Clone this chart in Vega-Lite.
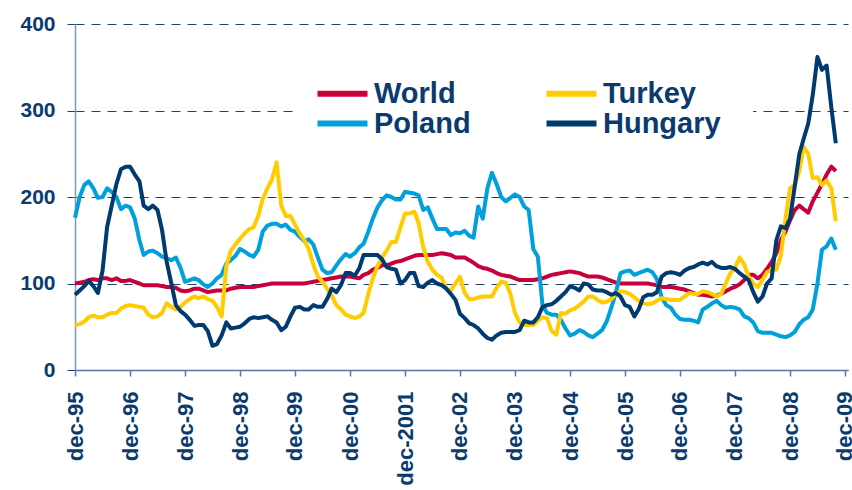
{
  "$schema": "https://vega.github.io/schema/vega-lite/v6.json",
  "width": 773,
  "height": 346,
  "autosize": "none",
  "padding": {"left": 75, "top": 24, "right": 4, "bottom": 120},
  "background": "white",
  "config": {
    "view": {"stroke": null},
    "font": "Liberation Sans"
  },
  "data": {
    "values": [
      {"d":"1995-12-01","World":100,"Poland":176,"Turkey":52,"Hungary":87},
      {"d":"1996-01-01","World":101,"Poland":200,"Turkey":53,"Hungary":92},
      {"d":"1996-02-01","World":102,"Poland":214,"Turkey":56,"Hungary":97},
      {"d":"1996-03-01","World":104,"Poland":218,"Turkey":61,"Hungary":103},
      {"d":"1996-04-01","World":105,"Poland":210,"Turkey":63,"Hungary":97},
      {"d":"1996-05-01","World":104,"Poland":199,"Turkey":61,"Hungary":89},
      {"d":"1996-06-01","World":106,"Poland":200,"Turkey":61,"Hungary":115},
      {"d":"1996-07-01","World":106,"Poland":210,"Turkey":64,"Hungary":165},
      {"d":"1996-08-01","World":104,"Poland":206,"Turkey":66,"Hungary":190},
      {"d":"1996-09-01","World":106,"Poland":200,"Turkey":66,"Hungary":215},
      {"d":"1996-10-01","World":103,"Poland":186,"Turkey":71,"Hungary":232},
      {"d":"1996-11-01","World":103,"Poland":190,"Turkey":74,"Hungary":235},
      {"d":"1996-12-01","World":104,"Poland":188,"Turkey":75,"Hungary":235},
      {"d":"1997-01-01","World":102,"Poland":175,"Turkey":74,"Hungary":226},
      {"d":"1997-02-01","World":100,"Poland":150,"Turkey":73,"Hungary":218},
      {"d":"1997-03-01","World":98,"Poland":133,"Turkey":72,"Hungary":190},
      {"d":"1997-04-01","World":98,"Poland":137,"Turkey":64,"Hungary":186},
      {"d":"1997-05-01","World":98,"Poland":138,"Turkey":61,"Hungary":190},
      {"d":"1997-06-01","World":98,"Poland":135,"Turkey":62,"Hungary":185},
      {"d":"1997-07-01","World":97,"Poland":131,"Turkey":66,"Hungary":162},
      {"d":"1997-08-01","World":96,"Poland":129,"Turkey":77,"Hungary":125},
      {"d":"1997-09-01","World":96,"Poland":127,"Turkey":73,"Hungary":100},
      {"d":"1997-10-01","World":95,"Poland":130,"Turkey":70,"Hungary":75},
      {"d":"1997-11-01","World":92,"Poland":118,"Turkey":73,"Hungary":68},
      {"d":"1997-12-01","World":91,"Poland":102,"Turkey":78,"Hungary":64},
      {"d":"1998-01-01","World":92,"Poland":104,"Turkey":82,"Hungary":58},
      {"d":"1998-02-01","World":94,"Poland":106,"Turkey":85,"Hungary":51},
      {"d":"1998-03-01","World":94,"Poland":104,"Turkey":83,"Hungary":52},
      {"d":"1998-04-01","World":92,"Poland":99,"Turkey":85,"Hungary":52},
      {"d":"1998-05-01","World":90,"Poland":96,"Turkey":82,"Hungary":45},
      {"d":"1998-06-01","World":91,"Poland":100,"Turkey":80,"Hungary":28},
      {"d":"1998-07-01","World":92,"Poland":106,"Turkey":73,"Hungary":30},
      {"d":"1998-08-01","World":92,"Poland":110,"Turkey":62,"Hungary":40},
      {"d":"1998-09-01","World":92,"Poland":123,"Turkey":120,"Hungary":55},
      {"d":"1998-10-01","World":94,"Poland":127,"Turkey":138,"Hungary":48},
      {"d":"1998-11-01","World":95,"Poland":132,"Turkey":145,"Hungary":49},
      {"d":"1998-12-01","World":96,"Poland":140,"Turkey":152,"Hungary":50},
      {"d":"1999-01-01","World":96,"Poland":137,"Turkey":158,"Hungary":54},
      {"d":"1999-02-01","World":96,"Poland":133,"Turkey":163,"Hungary":59},
      {"d":"1999-03-01","World":96,"Poland":131,"Turkey":165,"Hungary":61},
      {"d":"1999-04-01","World":97,"Poland":139,"Turkey":178,"Hungary":60},
      {"d":"1999-05-01","World":98,"Poland":160,"Turkey":198,"Hungary":61},
      {"d":"1999-06-01","World":99,"Poland":167,"Turkey":210,"Hungary":62},
      {"d":"1999-07-01","World":100,"Poland":169,"Turkey":220,"Hungary":58},
      {"d":"1999-08-01","World":100,"Poland":169,"Turkey":240,"Hungary":55},
      {"d":"1999-09-01","World":100,"Poland":166,"Turkey":190,"Hungary":46},
      {"d":"1999-10-01","World":100,"Poland":168,"Turkey":178,"Hungary":50},
      {"d":"1999-11-01","World":100,"Poland":162,"Turkey":178,"Hungary":62},
      {"d":"1999-12-01","World":100,"Poland":160,"Turkey":168,"Hungary":72},
      {"d":"2000-01-01","World":100,"Poland":154,"Turkey":158,"Hungary":73},
      {"d":"2000-02-01","World":100,"Poland":149,"Turkey":150,"Hungary":70},
      {"d":"2000-03-01","World":101,"Poland":151,"Turkey":140,"Hungary":70},
      {"d":"2000-04-01","World":102,"Poland":145,"Turkey":122,"Hungary":75},
      {"d":"2000-05-01","World":103,"Poland":130,"Turkey":108,"Hungary":73},
      {"d":"2000-06-01","World":104,"Poland":116,"Turkey":102,"Hungary":73},
      {"d":"2000-07-01","World":105,"Poland":112,"Turkey":94,"Hungary":82},
      {"d":"2000-08-01","World":106,"Poland":113,"Turkey":86,"Hungary":94},
      {"d":"2000-09-01","World":107,"Poland":121,"Turkey":75,"Hungary":90},
      {"d":"2000-10-01","World":108,"Poland":128,"Turkey":70,"Hungary":98},
      {"d":"2000-11-01","World":108,"Poland":134,"Turkey":64,"Hungary":112},
      {"d":"2000-12-01","World":108,"Poland":131,"Turkey":62,"Hungary":112},
      {"d":"2001-01-01","World":107,"Poland":135,"Turkey":60,"Hungary":109},
      {"d":"2001-02-01","World":106,"Poland":142,"Turkey":62,"Hungary":118},
      {"d":"2001-03-01","World":110,"Poland":146,"Turkey":66,"Hungary":133},
      {"d":"2001-04-01","World":112,"Poland":160,"Turkey":88,"Hungary":133},
      {"d":"2001-05-01","World":116,"Poland":175,"Turkey":106,"Hungary":133},
      {"d":"2001-06-01","World":118,"Poland":188,"Turkey":120,"Hungary":133},
      {"d":"2001-07-01","World":121,"Poland":196,"Turkey":130,"Hungary":128},
      {"d":"2001-08-01","World":121,"Poland":202,"Turkey":138,"Hungary":119},
      {"d":"2001-09-01","World":123,"Poland":200,"Turkey":148,"Hungary":117},
      {"d":"2001-10-01","World":125,"Poland":197,"Turkey":148,"Hungary":116},
      {"d":"2001-11-01","World":126,"Poland":197,"Turkey":165,"Hungary":100},
      {"d":"2001-12-01","World":128,"Poland":206,"Turkey":181,"Hungary":104},
      {"d":"2002-01-01","World":130,"Poland":205,"Turkey":181,"Hungary":112},
      {"d":"2002-02-01","World":132,"Poland":204,"Turkey":183,"Hungary":112},
      {"d":"2002-03-01","World":133,"Poland":202,"Turkey":170,"Hungary":97},
      {"d":"2002-04-01","World":133,"Poland":185,"Turkey":142,"Hungary":96},
      {"d":"2002-05-01","World":133,"Poland":188,"Turkey":125,"Hungary":101},
      {"d":"2002-06-01","World":133,"Poland":175,"Turkey":116,"Hungary":104},
      {"d":"2002-07-01","World":134,"Poland":163,"Turkey":110,"Hungary":100},
      {"d":"2002-08-01","World":135,"Poland":163,"Turkey":107,"Hungary":98},
      {"d":"2002-09-01","World":134,"Poland":163,"Turkey":94,"Hungary":94},
      {"d":"2002-10-01","World":133,"Poland":156,"Turkey":92,"Hungary":88},
      {"d":"2002-11-01","World":130,"Poland":159,"Turkey":100,"Hungary":81},
      {"d":"2002-12-01","World":130,"Poland":158,"Turkey":108,"Hungary":65},
      {"d":"2003-01-01","World":130,"Poland":161,"Turkey":89,"Hungary":60},
      {"d":"2003-02-01","World":127,"Poland":155,"Turkey":82,"Hungary":54},
      {"d":"2003-03-01","World":124,"Poland":153,"Turkey":82,"Hungary":52},
      {"d":"2003-04-01","World":120,"Poland":189,"Turkey":84,"Hungary":48},
      {"d":"2003-05-01","World":118,"Poland":175,"Turkey":85,"Hungary":42},
      {"d":"2003-06-01","World":117,"Poland":210,"Turkey":85,"Hungary":37},
      {"d":"2003-07-01","World":115,"Poland":228,"Turkey":85,"Hungary":35},
      {"d":"2003-08-01","World":112,"Poland":215,"Turkey":95,"Hungary":40},
      {"d":"2003-09-01","World":110,"Poland":200,"Turkey":102,"Hungary":43},
      {"d":"2003-10-01","World":109,"Poland":195,"Turkey":101,"Hungary":44},
      {"d":"2003-11-01","World":108,"Poland":199,"Turkey":88,"Hungary":44},
      {"d":"2003-12-01","World":106,"Poland":203,"Turkey":66,"Hungary":44},
      {"d":"2004-01-01","World":104,"Poland":200,"Turkey":55,"Hungary":46},
      {"d":"2004-02-01","World":104,"Poland":189,"Turkey":52,"Hungary":57},
      {"d":"2004-03-01","World":104,"Poland":185,"Turkey":52,"Hungary":55},
      {"d":"2004-04-01","World":104,"Poland":140,"Turkey":52,"Hungary":55},
      {"d":"2004-05-01","World":105,"Poland":131,"Turkey":57,"Hungary":61},
      {"d":"2004-06-01","World":106,"Poland":75,"Turkey":61,"Hungary":73},
      {"d":"2004-07-01","World":108,"Poland":66,"Turkey":60,"Hungary":75},
      {"d":"2004-08-01","World":110,"Poland":64,"Turkey":45,"Hungary":76},
      {"d":"2004-09-01","World":111,"Poland":64,"Turkey":41,"Hungary":80},
      {"d":"2004-10-01","World":112,"Poland":58,"Turkey":66,"Hungary":85},
      {"d":"2004-11-01","World":113,"Poland":48,"Turkey":65,"Hungary":90},
      {"d":"2004-12-01","World":114,"Poland":40,"Turkey":69,"Hungary":97},
      {"d":"2005-01-01","World":113,"Poland":42,"Turkey":71,"Hungary":95},
      {"d":"2005-02-01","World":112,"Poland":46,"Turkey":75,"Hungary":92},
      {"d":"2005-03-01","World":110,"Poland":44,"Turkey":79,"Hungary":100},
      {"d":"2005-04-01","World":108,"Poland":40,"Turkey":85,"Hungary":99},
      {"d":"2005-05-01","World":108,"Poland":38,"Turkey":85,"Hungary":93},
      {"d":"2005-06-01","World":108,"Poland":42,"Turkey":81,"Hungary":92},
      {"d":"2005-07-01","World":107,"Poland":46,"Turkey":78,"Hungary":92},
      {"d":"2005-08-01","World":105,"Poland":56,"Turkey":79,"Hungary":90},
      {"d":"2005-09-01","World":103,"Poland":72,"Turkey":82,"Hungary":87},
      {"d":"2005-10-01","World":101,"Poland":89,"Turkey":88,"Hungary":89},
      {"d":"2005-11-01","World":100,"Poland":112,"Turkey":91,"Hungary":85},
      {"d":"2005-12-01","World":100,"Poland":114,"Turkey":90,"Hungary":75},
      {"d":"2006-01-01","World":100,"Poland":115,"Turkey":88,"Hungary":73},
      {"d":"2006-02-01","World":100,"Poland":110,"Turkey":84,"Hungary":62},
      {"d":"2006-03-01","World":100,"Poland":112,"Turkey":80,"Hungary":70},
      {"d":"2006-04-01","World":100,"Poland":114,"Turkey":77,"Hungary":84},
      {"d":"2006-05-01","World":100,"Poland":116,"Turkey":76,"Hungary":87},
      {"d":"2006-06-01","World":99,"Poland":113,"Turkey":77,"Hungary":87},
      {"d":"2006-07-01","World":98,"Poland":105,"Turkey":80,"Hungary":90},
      {"d":"2006-08-01","World":96,"Poland":84,"Turkey":83,"Hungary":108},
      {"d":"2006-09-01","World":96,"Poland":75,"Turkey":82,"Hungary":112},
      {"d":"2006-10-01","World":96,"Poland":72,"Turkey":81,"Hungary":113},
      {"d":"2006-11-01","World":95,"Poland":64,"Turkey":81,"Hungary":112},
      {"d":"2006-12-01","World":94,"Poland":59,"Turkey":81,"Hungary":110},
      {"d":"2007-01-01","World":93,"Poland":58,"Turkey":85,"Hungary":115},
      {"d":"2007-02-01","World":91,"Poland":58,"Turkey":89,"Hungary":118},
      {"d":"2007-03-01","World":89,"Poland":57,"Turkey":88,"Hungary":119},
      {"d":"2007-04-01","World":87,"Poland":55,"Turkey":88,"Hungary":122},
      {"d":"2007-05-01","World":87,"Poland":70,"Turkey":91,"Hungary":124},
      {"d":"2007-06-01","World":86,"Poland":73,"Turkey":90,"Hungary":122},
      {"d":"2007-07-01","World":85,"Poland":77,"Turkey":88,"Hungary":125},
      {"d":"2007-08-01","World":86,"Poland":80,"Turkey":85,"Hungary":120},
      {"d":"2007-09-01","World":88,"Poland":75,"Turkey":88,"Hungary":118},
      {"d":"2007-10-01","World":91,"Poland":72,"Turkey":100,"Hungary":118},
      {"d":"2007-11-01","World":94,"Poland":73,"Turkey":112,"Hungary":119},
      {"d":"2007-12-01","World":96,"Poland":72,"Turkey":118,"Hungary":117},
      {"d":"2008-01-01","World":99,"Poland":70,"Turkey":130,"Hungary":112},
      {"d":"2008-02-01","World":104,"Poland":62,"Turkey":122,"Hungary":108},
      {"d":"2008-03-01","World":110,"Poland":60,"Turkey":108,"Hungary":104},
      {"d":"2008-04-01","World":110,"Poland":55,"Turkey":100,"Hungary":90},
      {"d":"2008-05-01","World":106,"Poland":45,"Turkey":96,"Hungary":79},
      {"d":"2008-06-01","World":110,"Poland":43,"Turkey":104,"Hungary":85},
      {"d":"2008-07-01","World":117,"Poland":43,"Turkey":113,"Hungary":100},
      {"d":"2008-08-01","World":125,"Poland":43,"Turkey":116,"Hungary":106},
      {"d":"2008-09-01","World":135,"Poland":41,"Turkey":116,"Hungary":150},
      {"d":"2008-10-01","World":150,"Poland":39,"Turkey":132,"Hungary":166},
      {"d":"2008-11-01","World":160,"Poland":38,"Turkey":175,"Hungary":164},
      {"d":"2008-12-01","World":173,"Poland":40,"Turkey":210,"Hungary":175},
      {"d":"2009-01-01","World":185,"Poland":44,"Turkey":214,"Hungary":212},
      {"d":"2009-02-01","World":190,"Poland":53,"Turkey":230,"Hungary":250},
      {"d":"2009-03-01","World":186,"Poland":58,"Turkey":258,"Hungary":267},
      {"d":"2009-04-01","World":182,"Poland":61,"Turkey":250,"Hungary":285},
      {"d":"2009-05-01","World":195,"Poland":70,"Turkey":222,"Hungary":318},
      {"d":"2009-06-01","World":205,"Poland":100,"Turkey":223,"Hungary":362},
      {"d":"2009-07-01","World":215,"Poland":139,"Turkey":214,"Hungary":347},
      {"d":"2009-08-01","World":226,"Poland":143,"Turkey":219,"Hungary":352},
      {"d":"2009-09-01","World":235,"Poland":152,"Turkey":210,"Hungary":304},
      {"d":"2009-10-01","World":230,"Poland":139,"Turkey":172,"Hungary":262}
    ]
  },
  "transform": [
    {"fold": ["World", "Poland", "Turkey", "Hungary"], "as": ["series", "value"]}
  ],
  "mark": {"type": "line", "strokeWidth": 4, "strokeJoin": "round"},
  "encoding": {
    "x": {
      "field": "d",
      "type": "temporal",
      "scale": {"type": "utc", "domain": [{"year": 1995, "month": 12, "date": 1, "utc": true}, {"year": 2009, "month": 12, "date": 21, "utc": true}]},
      "axis": {
        "title": null,
        "values": [
          {"year": 1995, "month": 12, "date": 1, "utc": true},
          {"year": 1996, "month": 12, "date": 1, "utc": true},
          {"year": 1997, "month": 12, "date": 1, "utc": true},
          {"year": 1998, "month": 12, "date": 1, "utc": true},
          {"year": 1999, "month": 12, "date": 1, "utc": true},
          {"year": 2000, "month": 12, "date": 1, "utc": true},
          {"year": 2001, "month": 12, "date": 1, "utc": true},
          {"year": 2002, "month": 12, "date": 1, "utc": true},
          {"year": 2003, "month": 12, "date": 1, "utc": true},
          {"year": 2004, "month": 12, "date": 1, "utc": true},
          {"year": 2005, "month": 12, "date": 1, "utc": true},
          {"year": 2006, "month": 12, "date": 1, "utc": true},
          {"year": 2007, "month": 12, "date": 1, "utc": true},
          {"year": 2008, "month": 12, "date": 1, "utc": true},
          {"year": 2009, "month": 12, "date": 1, "utc": true}
        ],
        "labelExpr": "'dec-' + (utcyear(datum.value) == 2001 ? '2001' : utcFormat(datum.value, '%y'))",
        "labelAngle": 270,
        "labelFont": "Liberation Sans",
        "labelFontSize": 22,
        "labelFontWeight": "bold",
        "labelColor": "#0b3b6e",
        "labelPadding": 15,
        "labelOverlap": false,
        "labelBound": false,
        "labelFlush": false,
        "grid": false,
        "domainColor": "#5677a0",
        "domainWidth": 1.5,
        "tickColor": "#5677a0",
        "tickSize": 6,
        "tickWidth": 1.5,
        "zindex": 1
      }
    },
    "y": {
      "field": "value",
      "type": "quantitative",
      "scale": {"domain": [0, 400], "nice": false, "zero": true},
      "axis": {
        "title": null,
        "values": [0, 100, 200, 300, 400],
        "labelFont": "Liberation Sans",
        "labelFontSize": 21,
        "labelFontWeight": "bold",
        "labelColor": "#0b3b6e",
        "labelPadding": 12,
        "grid": true,
        "gridColor": "#1f4470",
        "gridDash": [9, 7],
        "gridWidth": 1,
        "domainColor": "#7f99b8",
        "domainWidth": 1.5,
        "tickColor": "#1f4470",
        "tickSize": 8,
        "tickWidth": 1
      }
    },
    "color": {
      "field": "series",
      "type": "nominal",
      "scale": {
        "domain": ["World", "Poland", "Turkey", "Hungary"],
        "range": ["#c8003c", "#00a0dc", "#ffcc00", "#003a70"]
      },
      "legend": {
        "title": null,
        "orient": "none",
        "legendX": 221,
        "legendY": 23,
        "columns": 2,
        "fillColor": "white",
        "padding": 32,
        "symbolType": "M-2.5,0H2.5",
        "symbolSize": 400,
        "symbolStrokeWidth": 6,
        "labelFont": "Liberation Sans",
        "labelFontSize": 29,
        "labelFontWeight": "bold",
        "labelColor": "#0b3b6e",
        "labelOffset": 17,
        "labelLimit": 400,
        "columnPadding": 63,
        "rowPadding": -2
      }
    }
  }
}
